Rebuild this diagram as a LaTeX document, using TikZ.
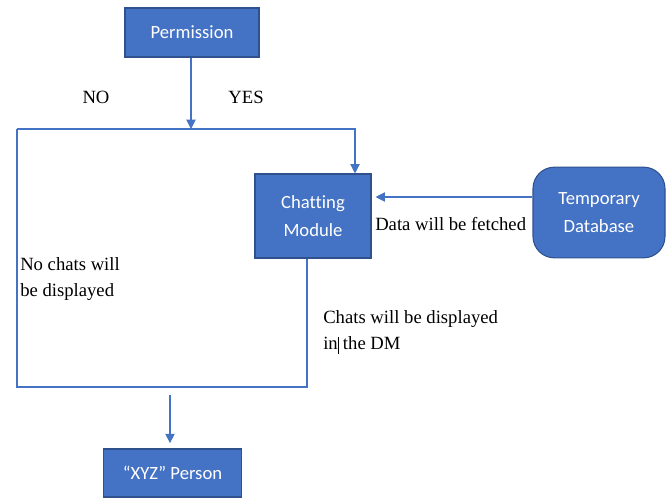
\documentclass[tikz,border=0pt]{standalone}
\usepackage{fontspec}
\setmainfont{Liberation Serif}
\newfontfamily\boxfont[Ligatures=NoCommon]{Carlito}
\usetikzlibrary{arrows.meta}
\definecolor{boxblue}{HTML}{4472C4}
\definecolor{boxedge}{HTML}{2F528F}
\tikzset{
  blk/.style={draw=boxedge,line width=0.8pt,fill=boxblue,text=white,
    font=\boxfont\fontsize{14}{21}\selectfont,align=center,inner sep=0pt},
  lbl/.style={font=\fontsize{14}{20}\selectfont,align=left,inner sep=0pt},
  wire/.style={draw=boxblue,line width=0.8pt},
  link/.style={wire,-{Triangle[width=7pt,length=7pt]}}
}
\begin{document}
\begin{tikzpicture}[x=0.75pt,y=-0.75pt]
  \useasboundingbox (0,0) rectangle (671,502);
  \node[blk,minimum width=100.5pt,minimum height=36.75pt] (perm) at (192,32.5) {Permission};
  \node[blk,minimum width=87pt,minimum height=63pt] (chat) at (313,216) {Chatting\\Module};
  \node[blk,rounded corners=16pt,minimum width=99pt,minimum height=68pt] (tempdb) at (599,212.5) {Temporary\\Database};
  \node[blk,minimum width=104pt,minimum height=36pt] (xyz) at (172.5,473) {“XYZ” Person};

  \node[lbl] (no) at (96,97) {NO};
  \node[lbl] (yes) at (246,97) {YES};
  \node[lbl,anchor=west] (fetched) at (375,224) {Data will be fetched};
  \node[lbl,anchor=north west] (nochats) at (20,257) {No chats will\\be displayed};
  \node[lbl,anchor=north west] (chats) at (323,310) {Chats will be displayed\\in\rule[-3pt]{0.4pt}{13pt} the DM};

  \coordinate (split) at (191,129);
  \coordinate (nocorner) at (17,129);
  \coordinate (yescorner) at (355,129);
  \coordinate (join) at (307,387);
  \coordinate (drop) at (170,395);

  \begin{scope}
    \draw[link] (perm.south -| split) -- (split);
    \draw[link] (nocorner) -- (yescorner) -- (yescorner |- chat.north);
    \draw[wire] (nocorner) |- (join) -- (join |- chat.south);
    \draw[link,shorten >=3pt] (tempdb.west |- 0,197) -- (chat.east |- 0,197);
    \draw[link,shorten >=4pt] (drop) -- (drop |- xyz.north);
  \end{scope}
\end{tikzpicture}
\end{document}
